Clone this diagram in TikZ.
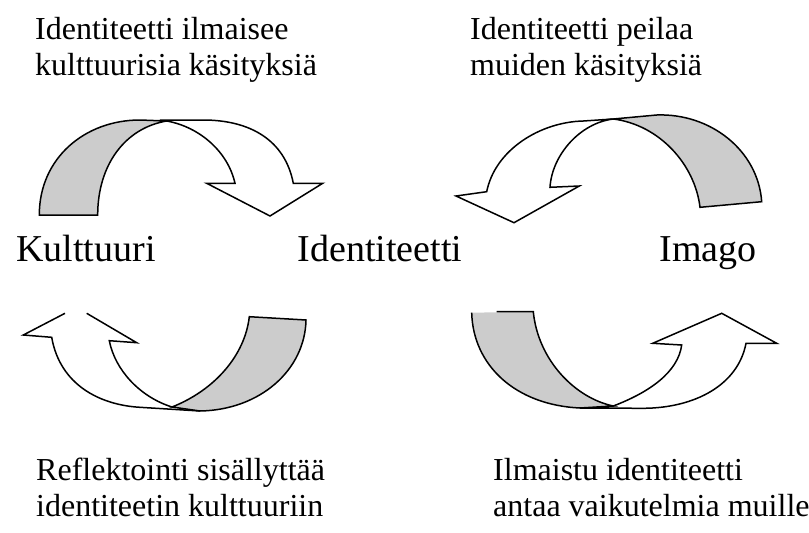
\documentclass[tikz,border=0pt]{standalone}
\usepackage{fontspec}
\setmainfont{Liberation Serif}
\definecolor{bandgray}{RGB}{204,204,204}
\begin{document}
\begin{tikzpicture}[x=1pt,y=-1pt,
  band/.style={draw=black, line width=1.5pt, line join=miter},
  face/.style={band, fill=white},
  back/.style={band, fill=bandgray},
  caption/.style={inner sep=0pt, anchor=north west, align=left,
                  font=\fontsize{32}{36}\selectfont},
  term/.style={inner sep=0pt, anchor=base, font=\fontsize{38}{40}\selectfont}]
\useasboundingbox (0,0) rectangle (809,533);

% upper left: curved arrow pointing down towards the centre
\draw[face] (166.7,121) .. controls (200,127) and (228,152) .. (235,183.3)
  -- (206.7,183.3) -- (270,216) -- (322.7,183.3) -- (293.3,183.3)
  .. controls (285,140) and (250,120) .. (203,120) -- (160,120) -- cycle;
\draw[back] (39.3,215) .. controls (39.3,158) and (85,120) .. (140,120)
  -- (166.7,121) .. controls (125,128) and (97.7,165) .. (97.7,215) -- cycle;

% upper right: curved arrow pointing down-left towards the centre
\draw[face] (613.3,119) .. controls (580,123) and (552,155) .. (550,187.3)
  -- (579.3,186) -- (514,222.7) -- (456,196) -- (486.7,191.7)
  .. controls (495,150) and (540,122) .. (583.3,121) -- cycle;
\draw[back] (613.3,119) -- (656.7,115)
  .. controls (710,113) and (758,150) .. (761.7,201.7) -- (700,207.3)
  .. controls (695,165) and (660,125) .. (613.3,119) -- cycle;

% lower left: curved arrow pointing up, its tip hidden under the label box
\draw[band] (65,313.3) -- (23.3,335) -- (51.7,337.3)
  .. controls (60,385) and (100,405) .. (140,407.3) -- (200,411);
\draw[band] (86.7,313.3) -- (136.7,342.7) -- (109.3,340.7)
  .. controls (115,370) and (140,397) .. (172,407);
\draw[back] (172,407) .. controls (215,390) and (245,355) .. (249.3,316.7)
  -- (306,320) .. controls (305,370) and (260,410) .. (200,411) -- cycle;

% lower right: curved arrow pointing up-right
\draw[face] (613.3,406) .. controls (650,392) and (678,372) .. (681.7,345)
  -- (652.7,343.3) -- (721.7,313.3) -- (776.7,343.3) -- (746,343.3)
  .. controls (738,385) and (695,408) .. (643.3,408.3) -- (580,408) -- cycle;
\fill[bandgray] (471.7,312.7) .. controls (473,365) and (515,405) .. (580,408)
  -- (613.3,406) .. controls (575,398) and (538,360) .. (533.3,311.7) -- cycle;
\draw[band] (496.7,311.7) -- (533.3,311.7)
  .. controls (538,360) and (575,398) .. (613.3,406) -- (580,408)
  .. controls (515,405) and (473,365) .. (471.7,312.7);

% middle row terms
\node[term] (kulttuuri) at (86,261) {Kulttuuri};
\node[term] (identiteetti) at (380,261) {Identiteetti};
\node[term] (imago) at (708,261) {Imago};

% captions
\node[caption] (ilmaisee) at (35,17) {Identiteetti ilmaisee\\kulttuurisia käsityksiä};
\node[caption] (peilaa) at (470,17) {Identiteetti peilaa\\muiden käsityksiä};
\node[caption] (reflektointi) at (36,458) {Reflektointi sisällyttää\\identiteetin kulttuuriin};
\node[caption] (vaikutelmia) at (493,458) {Ilmaistu identiteetti\\antaa vaikutelmia muille};
\end{tikzpicture}
\end{document}
